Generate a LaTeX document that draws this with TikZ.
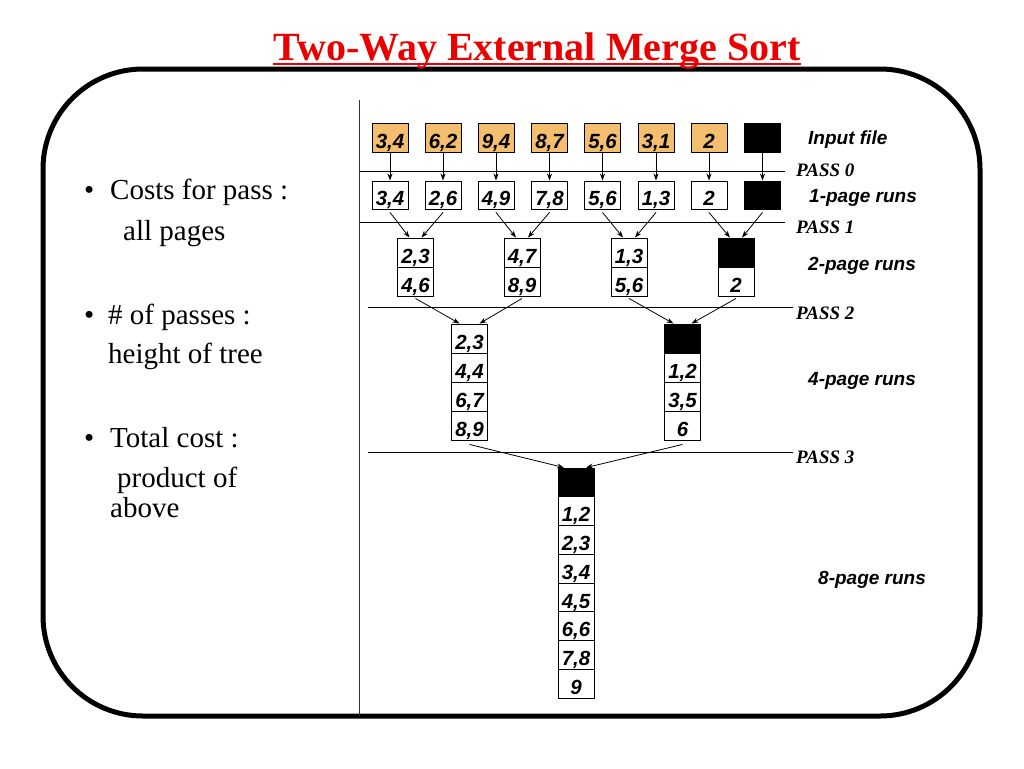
\documentclass[tikz,border=0pt]{standalone}
\usepackage{fontspec}
\setmainfont{Liberation Serif}
\newfontfamily\arialf{Liberation Sans}
\usetikzlibrary{arrows.meta}
\definecolor{tanfill}{RGB}{243,190,110}
\definecolor{titlered}{RGB}{235,0,0}
\tikzset{
 cell/.style={draw, line width=0.9pt, minimum width=36pt, minimum height=29pt, inner sep=0pt,
   text height=21.5pt, text depth=0pt,
   font=\arialf\bfseries\itshape\fontsize{20.5}{22}\selectfont},
 incell/.style={cell, fill=tanfill},
 blk/.style={cell, fill=black},
 arr/.style={-{Stealth[length=7pt,width=5pt]}, line width=0.8pt},
 runlbl/.style={anchor=west, inner sep=0pt, font=\arialf\bfseries\itshape\fontsize{19}{21}\selectfont},
 passlbl/.style={anchor=west, inner sep=0pt, font=\bfseries\itshape\fontsize{19}{21}\selectfont},
 bodytxt/.style={anchor=base west, inner sep=0pt, font=\fontsize{29}{32}\selectfont},
 divider/.style={line width=0.8pt},
}
\begin{document}
\begin{tikzpicture}[x=1pt,y=-1pt]
\useasboundingbox (0,0) rectangle (1024,768);
\fill[white] (0,0) rectangle (1024,768);
% frame
\draw[line width=5pt, rounded corners=100pt] (43,69) rectangle (980,716);
% title
\node[anchor=base, inner sep=0pt, text=titlered, font=\bfseries\fontsize{40}{44}\selectfont] (title) at (537,60) {Two-Way External Merge Sort};
\draw[titlered, line width=2pt] ([yshift=-4pt]title.base west) -- ([yshift=-4pt]title.base east);
% left text
\node[bodytxt] (b1) at (84,199) {\textbullet};
\node[bodytxt] (t1a) at (110,199) {Costs for pass :};
\node[bodytxt] (t1b) at (123,240) {all pages};
\node[bodytxt] (b2) at (84,324) {\textbullet};
\node[bodytxt] (t2a) at (108,324) {\# of passes :};
\node[bodytxt] (t2b) at (108,363) {height of tree};
\node[bodytxt] (b3) at (84,447) {\textbullet};
\node[bodytxt] (t3a) at (110,447) {Total cost :};
\node[bodytxt] (t3b) at (117,487) {product of};
\node[bodytxt] (t3c) at (110,517) {above};
% vertical separator
\coordinate (vtop) at (359,100);
\coordinate (vbot) at (359,716);
\draw[line width=1pt, black!80] (vtop) -- (vbot);
% pass dividers
\coordinate (p0l) at (360,171); \coordinate (p0r) at (785,171);
\coordinate (p1l) at (360,222); \coordinate (p1r) at (785,222);
\coordinate (p2l) at (368,307); \coordinate (p2r) at (793,307);
\coordinate (p3l) at (368,452); \coordinate (p3r) at (793,452);
\draw[divider] (p0l) -- (p0r);
\draw[divider] (p1l) -- (p1r);
\draw[divider] (p2l) -- (p2r);
\draw[divider] (p3l) -- (p3r);
\node[passlbl] (pass0) at (796,170) {PASS 0};
\node[passlbl] (pass1) at (796,227) {PASS 1};
\node[passlbl] (pass2) at (796,313) {PASS 2};
\node[passlbl] (pass3) at (796,457) {PASS 3};
\node[runlbl] (linput) at (808,140) {Input file};
\node[runlbl] (l1) at (809,198) {1-page runs};
\node[runlbl] (l2) at (808,266) {2-page runs};
\node[runlbl] (l4) at (808,381) {4-page runs};
\node[runlbl] (l8) at (818,580) {8-page runs};
% input file
\node[incell] (i1) at (390,137.5) {3,4};
\node[incell] (i2) at (443,137.5) {6,2};
\node[incell] (i3) at (496,137.5) {9,4};
\node[incell] (i4) at (549.5,137.5) {8,7};
\node[incell] (i5) at (602.5,137.5) {5,6};
\node[incell] (i6) at (656,137.5) {3,1};
\node[incell] (i7) at (709,137.5) {2};
\node[blk] (i8) at (762.5,137.5) {};
% 1-page runs
\node[cell, minimum height=28pt] (o1) at (390,195) {3,4};
\node[cell, minimum height=28pt] (o2) at (443,195) {2,6};
\node[cell, minimum height=28pt] (o3) at (496,195) {4,9};
\node[cell, minimum height=28pt] (o4) at (549.5,195) {7,8};
\node[cell, minimum height=28pt] (o5) at (602.5,195) {5,6};
\node[cell, minimum height=28pt] (o6) at (656,195) {1,3};
\node[cell, minimum height=28pt] (o7) at (709,195) {2};
\node[blk, minimum height=28pt] (o8) at (762.5,195) {};
\foreach \k in {1,...,8} { \draw[arr] (i\k.south) -- (o\k.north); }
% 2-page runs
\node[cell] (a1t) at (415.5,252.5) {2,3};
\node[cell] (a1b) at (415.5,281.5) {4,6};
\node[cell] (a2t) at (522,252.5) {4,7};
\node[cell] (a2b) at (522,281.5) {8,9};
\node[cell] (a3t) at (629,252.5) {1,3};
\node[cell] (a3b) at (629,281.5) {5,6};
\node[blk] (a4t) at (736,252.5) {};
\node[cell] (a4b) at (736,281.5) {2};
\draw[arr] ([yshift=-3pt]o1.south) -- ([xshift=-6pt]a1t.north);
\draw[arr] ([yshift=-3pt]o2.south) -- ([xshift=6pt]a1t.north);
\draw[arr] ([yshift=-3pt]o3.south) -- ([xshift=-6pt]a2t.north);
\draw[arr] ([yshift=-3pt]o4.south) -- ([xshift=6pt]a2t.north);
\draw[arr] ([yshift=-3pt]o5.south) -- ([xshift=-6pt]a3t.north);
\draw[arr] ([yshift=-3pt]o6.south) -- ([xshift=6pt]a3t.north);
\draw[arr] ([yshift=-3pt]o7.south) -- ([xshift=-6pt]a4t.north);
\draw[arr] ([yshift=-3pt]o8.south) -- ([xshift=6pt]a4t.north);
% 4-page runs
\node[cell] (b1a) at (469.5,338.5) {2,3};
\node[cell] (b1b) at (469.5,367.5) {4,4};
\node[cell] (b1c) at (469.5,396.5) {6,7};
\node[cell] (b1d) at (469.5,425.5) {8,9};
\node[blk]  (b2a) at (682.5,338.5) {};
\node[cell] (b2b) at (682.5,367.5) {1,2};
\node[cell] (b2c) at (682.5,396.5) {3,5};
\node[cell] (b2d) at (682.5,425.5) {6};
\draw[arr] ([yshift=-2pt]a1b.south) -- ([xshift=-10pt]b1a.north);
\draw[arr] ([yshift=-2pt]a2b.south) -- ([xshift=10pt]b1a.north);
\draw[arr] ([yshift=-2pt]a3b.south) -- ([xshift=-9pt]b2a.north);
\draw[arr] ([yshift=-2pt]a4b.south) -- ([xshift=9pt]b2a.north);
% 8-page runs
\node[blk, minimum height=28.75pt]  (c1) at (576,482.4) {};
\node[cell, minimum height=28.75pt] (c2) at (576,511.1) {1,2};
\node[cell, minimum height=28.75pt] (c3) at (576,539.9) {2,3};
\node[cell, minimum height=28.75pt] (c4) at (576,568.6) {3,4};
\node[cell, minimum height=28.75pt] (c5) at (576,597.4) {4,5};
\node[cell, minimum height=28.75pt] (c6) at (576,626.1) {6,6};
\node[cell, minimum height=28.75pt] (c7) at (576,654.9) {7,8};
\node[cell, minimum height=28.75pt] (c8) at (576,683.6) {9};
\draw[arr] ([yshift=-4pt]b1d.south) -- ([xshift=-12pt]c1.north);
\draw[arr] ([yshift=-4pt]b2d.south) -- ([xshift=10pt]c1.north);
\end{tikzpicture}
\end{document}
